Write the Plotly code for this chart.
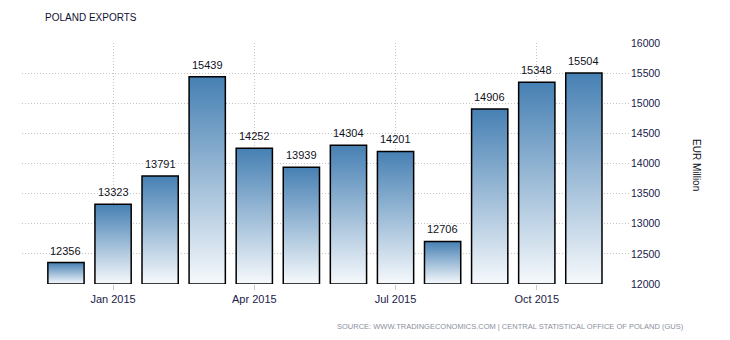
import plotly.graph_objects as go

months = ["Dec 2014", "Jan 2015", "Feb 2015", "Mar 2015", "Apr 2015", "May 2015",
          "Jun 2015", "Jul 2015", "Aug 2015", "Sep 2015", "Oct 2015", "Nov 2015"]
exports = [12356, 13323, 13791, 15439, 14252, 13939, 14304, 14201, 12706, 14906, 15348, 15504]
tick_labels = ["Jan 2015", "Apr 2015", "Jul 2015", "Oct 2015"]
y_ticks = [12000, 12500, 13000, 13500, 14000, 14500, 15000, 15500, 16000]

base = 12000
half = 0.385
idx = {m: i for i, m in enumerate(months)}

W, H = 730, 340
ML, MR, MT, MB = 22, 100, 43, 56
pw = W - ML - MR
ph = H - MT - MB


def px(xp):
    return (xp - ML) / pw


def py(yp):
    return (H - MB - yp) / ph


fig = go.Figure()
for i, v in enumerate(exports):
    fig.add_trace(go.Scatter(
        x=[i - half, i + half, i + half, i - half, i - half],
        y=[base, base, v, v, base],
        mode="lines", fill="toself",
        line=dict(color="#000000", width=1.5),
        fillgradient=dict(type="vertical",
                          colorscale=[[0, "#f6f9fc"], [1, "#4680b3"]],
                          start=base, stop=v),
        hoverinfo="skip", showlegend=False,
    ))

annotations = []
for i, v in enumerate(exports):
    annotations.append(dict(
        x=i, y=v, xref="x", yref="y", text=str(v), showarrow=False,
        xanchor="center", yanchor="bottom", yshift=4,
        font=dict(family="Liberation Sans", size=11, color="#111122"),
    ))

annotations += [
    dict(text="POLAND EXPORTS", x=px(43), y=py(18), xref="paper", yref="paper",
         xanchor="left", yanchor="middle", showarrow=False,
         font=dict(family="Liberation Sans", size=10, color="#111133")),
    dict(text="EUR Million", textangle=90, xref="paper", yref="paper",
         x=px(697), y=py(165), xanchor="center", yanchor="middle", showarrow=False,
         font=dict(family="Liberation Sans", size=10, color="#111122")),
    dict(text="SOURCE: WWW.TRADINGECONOMICS.COM | CENTRAL STATISTICAL OFFICE OF POLAND (GUS)",
         xref="paper", yref="paper", x=px(686), y=py(326),
         xanchor="right", yanchor="middle", showarrow=False,
         font=dict(family="Liberation Sans", size=7.5, color="#8a8fa0")),
]

grid_dash = "1px,2px"
fig.update_layout(
    width=W, height=H,
    margin=dict(l=ML, r=MR, t=MT, b=MB),
    plot_bgcolor="white", paper_bgcolor="white",
    font=dict(family="Liberation Sans", size=10, color="#1a1a4a"),
    xaxis=dict(
        range=[-0.934, 11.98],
        tickvals=[idx[m] for m in tick_labels],
        ticktext=tick_labels,
        ticks="outside", ticklen=5, tickcolor="#c8c8c8",
        showgrid=True, gridcolor="#c4c4c4", griddash=grid_dash, gridwidth=1,
        zeroline=False, showline=False,
        tickfont=dict(size=11, color="#1a1a4a"),
    ),
    yaxis=dict(
        side="right", range=[12000, 16000],
        tickvals=y_ticks, ticktext=[str(t) for t in y_ticks],
        showgrid=True, gridcolor="#c4c4c4", griddash=grid_dash, gridwidth=1,
        zeroline=False, showline=False, ticks="",
        tickfont=dict(size=10.5, color="#1a1a4a"),
    ),
    annotations=annotations,
)

fig.write_html("out.html")
